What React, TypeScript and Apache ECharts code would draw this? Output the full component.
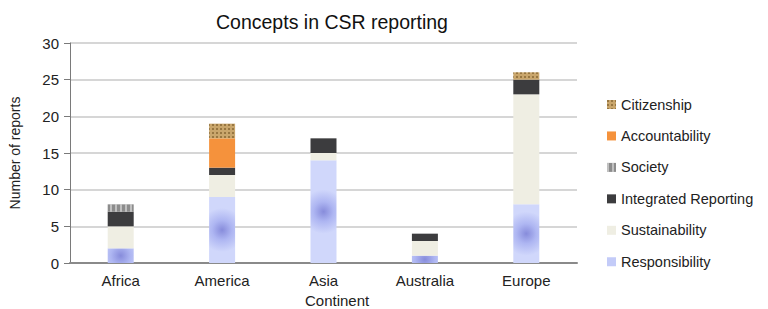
import React, { useEffect, useRef } from "react";
import * as echarts from "echarts";

const categories = ["Africa", "America", "Asia", "Australia", "Europe"];
const responsibility = [2, 9, 14, 1, 8];
const sustainability = [3, 3, 1, 2, 15];
const integratedReporting = [2, 1, 2, 1, 2];
const society = [1, 0, 0, 0, 0];
const accountability = [0, 4, 0, 0, 0];
const citizenship = [0, 2, 0, 0, 1];
const legendOrder = ["Citizenship", "Accountability", "Society", "Integrated Reporting", "Sustainability", "Responsibility"];

const FONT = "Liberation Sans, Arial, Helvetica, sans-serif";

const blobStops = [
  { offset: 0, color: "#878cdb" },
  { offset: 0.45, color: "#aeb6f2" },
  { offset: 1, color: "#d0d7fb" },
];

export default function App() {
  const ref = useRef<HTMLDivElement>(null);
  useEffect(() => {
    if (!ref.current) return;
    const chart = echarts.init(ref.current, null, { renderer: "svg" });
    const mk = (name: string, data: any[], itemStyle: any) => ({
      name,
      type: "bar",
      stack: "total",
      barWidth: 26,
      data: data.map((v) => (v === 0 ? null : v)),
      itemStyle,
    });
    const baseOption: any = {
      animation: false,
      backgroundColor: "#ffffff",
      title: {
        text: "Concepts in CSR reporting",
        left: 211,
        top: 7,
        textStyle: { fontFamily: FONT, fontSize: 19.5, fontWeight: "normal", color: "#111" },
      },
      grid: { left: 70, right: 191, top: 43, bottom: 46 },
      legend: {
        orient: "vertical",
        left: 602,
        top: 92,
        itemGap: 16.45,
        itemWidth: 9,
        itemHeight: 9,
        icon: "rect",
        data: legendOrder,
        textStyle: { fontFamily: FONT, fontSize: 14.5, color: "#222" },
      },
      xAxis: {
        type: "category",
        data: categories,
        axisLine: { lineStyle: { color: "#8a8a8a", width: 2 } },
        axisTick: { show: false },
        axisLabel: { fontFamily: FONT, fontSize: 15, color: "#222", margin: 10 },
      },
      yAxis: {
        type: "value",
        min: 0,
        max: 30,
        interval: 5,
        name: "Number of reports",
        nameLocation: "middle",
        nameGap: 48,
        nameTextStyle: { fontFamily: FONT, fontSize: 14, color: "#222" },
        axisLine: { show: true, lineStyle: { color: "#7a7a7a", width: 1 } },
        axisTick: { show: true, length: 6, lineStyle: { color: "#7a7a7a" } },
        axisLabel: { fontFamily: FONT, fontSize: 15, color: "#222", margin: 11 },
        splitLine: { lineStyle: { color: "#c8c8c8", width: 1.5 } },
      },
      graphic: [
        {
          type: "text",
          left: 305,
          top: 293,
          style: { text: "Continent", fontFamily: FONT, fontSize: 15, fill: "#222" },
        },
      ],
      series: [
        mk("Responsibility", responsibility, { color: "#c3cbf8" }),
        mk("Sustainability", sustainability, { color: "#efeee3" }),
        mk("Integrated Reporting", integratedReporting, { color: "#3c3c3e" }),
        mk("Society", society, {
          color: "#8c8c8c",
          decal: { symbol: "rect", color: "rgba(255,255,255,0.45)", dashArrayX: [2, 3], dashArrayY: [10, 0], symbolSize: 1, rotation: 0 },
        }),
        mk("Accountability", accountability, { color: "#f5923c" }),
        mk("Citizenship", citizenship, {
          color: "#c9a66c",
          decal: { symbol: "rect", color: "rgba(110,80,30,0.55)", dashArrayX: [2, 2], dashArrayY: [2, 2], symbolSize: 1, rotation: 0 },
        }),
      ],
    };
    chart.setOption(baseOption);
    const respData = responsibility.map((v, i) => {
      if (v === 0) return null;
      const p = chart.convertToPixel({ seriesIndex: 0 }, [i, v / 2]) as number[];
      return {
        value: v,
        itemStyle: {
          color: {
            type: "radial",
            x: p[0],
            y: p[1],
            r: 22,
            global: true,
            colorStops: blobStops,
          },
        },
      };
    });
    chart.setOption({
      series: [{ name: "Responsibility", data: respData }],
    });
    return () => chart.dispose();
  }, []);
  return <div ref={ref} style={{ position: "fixed", left: 0, top: 0, width: 768, height: 309 }} />;
}
